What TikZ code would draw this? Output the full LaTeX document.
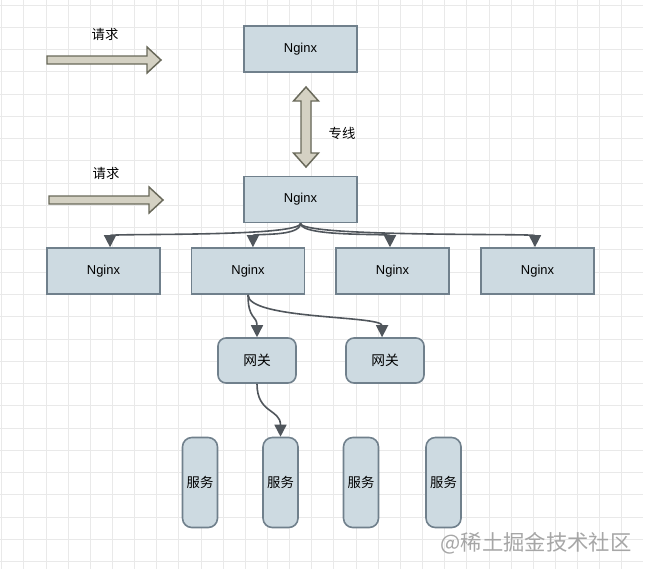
\documentclass[tikz,border=0pt]{standalone}
\usepackage{fontspec}
\setmainfont{Liberation Sans}
\newfontfamily\cjk{Noto Sans CJK SC}
\usetikzlibrary{arrows.meta,positioning}
\definecolor{bleuGris}{RGB}{205,218,225}
\definecolor{bordGris}{RGB}{112,128,140}
\definecolor{beigeFleche}{RGB}{212,209,195}
\definecolor{bordBeige}{RGB}{105,105,90}
\definecolor{lienGris}{RGB}{80,86,92}
\definecolor{grille}{RGB}{233,233,233}

\begin{document}
\begin{tikzpicture}[x=0.75pt,y=-0.75pt,
  boite/.style={rectangle,draw=bordGris,fill=bleuGris,line width=1.2pt,minimum width=84.5pt,
                minimum height=34.5pt,inner sep=0pt,font=\fontsize{9.7}{11}\selectfont},
  passerelle/.style={boite,rounded corners=6pt,minimum width=58.5pt,minimum height=33.75pt,
                     font=\cjk\fontsize{10.3}{12}\selectfont},
  service/.style={boite,rounded corners=7pt,minimum width=26.25pt,minimum height=67.5pt,
                  font=\cjk\fontsize{10}{12}\selectfont},
  fleche/.style={draw=bordBeige,fill=beigeFleche,line width=1.1pt,line join=miter},
  lien/.style={draw=lienGris,line width=1.2pt,-{Triangle[length=9pt,width=9pt]}},
  etiquette/.style={font=\cjk\fontsize{10}{12}\selectfont}]

  % fond quadrille
  \fill[white] (0,0) rectangle (653,569);
  \useasboundingbox (0,0) rectangle (653,569);
  \foreach \gx in {0,...,28}
    \draw[grille,line width=0.75pt] ({1.7+22.15*\gx},0) -- ({1.7+22.15*\gx},569);
  \foreach \gy in {0,...,25}
    \draw[grille,line width=0.75pt] (0,{5+22.27*\gy}) -- (643,{5+22.27*\gy});

  % requetes
  \draw[fleche] (47,56) -- (147,56) -- (147,47) -- (161,60) -- (147,73) -- (147,64) -- (47,64) -- cycle;
  \draw[fleche] (49,196) -- (149,196) -- (149,187) -- (163,200) -- (149,213) -- (149,204) -- (49,204) -- cycle;
  \node[etiquette] (reqHaut) at (105,34) {请求};
  \node[etiquette] (reqBas)  at (106,173) {请求};

  % nginx
  \node[boite] (nginxHaut)   at (300.5,49)  {Nginx};
  \node[boite] (nginxEntree) at (300.5,199.5) {Nginx};
  \node[boite] (nginxA) at (103.5,271) {Nginx};
  \node[boite] (nginxB) at (248,271)   {Nginx};
  \node[boite] (nginxC) at (392.5,271) {Nginx};
  \node[boite] (nginxD) at (537.5,271) {Nginx};

  % ligne dediee
  \draw[fleche] (306,87) -- (318.5,101) -- (311,101) -- (311,153) -- (318.5,153) -- (306,167)
                -- (293.5,153) -- (301,153) -- (301,101) -- (293.5,101) -- cycle;
  \node[etiquette] (ligne) at (342,133) {专线};

  % passerelles et services
  \node[passerelle] (gwA) at (257,360.5) {网关};
  \node[passerelle] (gwB) at (385,360.5) {网关};
  \node[service] (svA) at (200,482.5)   {服务};
  \node[service] (svB) at (280.5,482.5) {服务};
  \node[service] (svC) at (361,482.5)   {服务};
  \node[service] (svD) at (443.5,482.5) {服务};

  \draw[lien] (nginxEntree.south) .. controls +(0,14) and +(0,-14) .. ([xshift=4.9pt]nginxA.north);
  \draw[lien] (nginxEntree.south) .. controls +(0,14) and +(0,-14) .. ([xshift=3.7pt]nginxB.north);
  \draw[lien] (nginxEntree.south) .. controls +(0,14) and +(0,-14) .. ([xshift=-1.9pt]nginxC.north);
  \draw[lien] (nginxEntree.south) .. controls +(0,14) and +(0,-14) .. ([xshift=-1.9pt]nginxD.north);
  \draw[lien] (nginxB.south) .. controls +(0,25) and +(0,-22) .. (gwA.north);
  \draw[lien] (nginxB.south) .. controls +(0,25) and +(0,-22) .. ([xshift=-2.2pt]gwB.north);
  \draw[lien] (gwA.south) .. controls +(0,30) and +(0,-28) .. (svB.north);

  \node[font=\cjk\fontsize{16}{18}\selectfont,text=black!35] (marque) at (536,543) {@稀土掘金技术社区};
\end{tikzpicture}
\end{document}
